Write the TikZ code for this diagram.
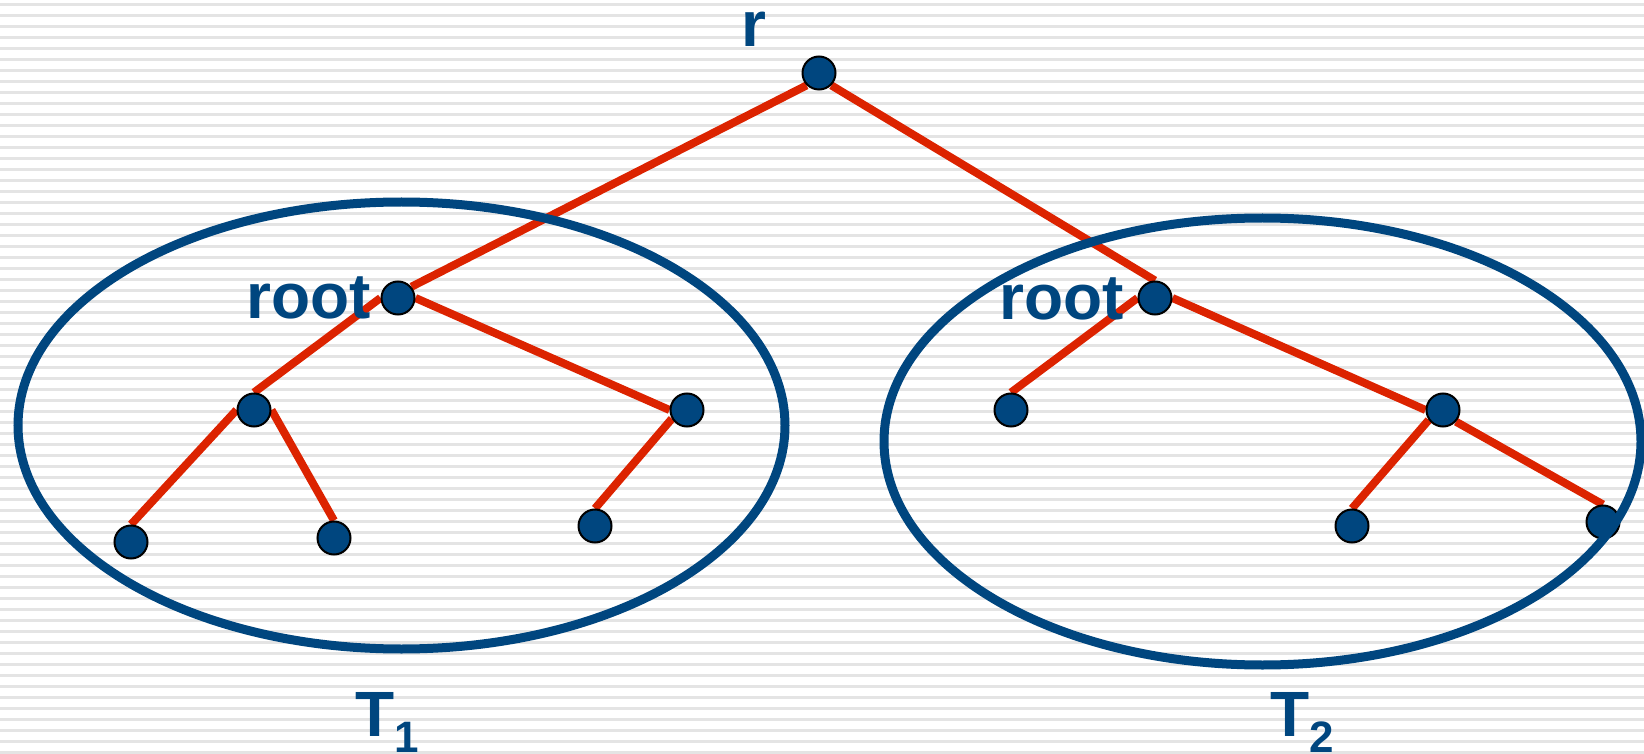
\documentclass[tikz,border=0pt]{standalone}
\usepackage{fontspec}
\setmainfont{Liberation Sans}
\definecolor{tblue}{HTML}{00467F}
\definecolor{tred}{HTML}{DC2300}
\definecolor{stripe}{HTML}{E4E4E4}
\pgfdeclarelayer{bg}
\pgfdeclarelayer{edgelayer}
\pgfdeclarelayer{fg}
\pgfsetlayers{bg,edgelayer,main,fg}
\tikzset{
  vtx/.style={circle, draw=black, line width=1pt, fill=tblue, minimum size=16.5pt, inner sep=0pt},
  edge/.style={draw=tred, line width=4pt},
  outline/.style={draw=tblue, line width=4.5pt},
  lbl/.style={text=tblue, font=\fontsize{32}{32}\selectfont\bfseries, inner sep=0pt, anchor=base west}
}
\begin{document}
\begin{tikzpicture}[x=0.5pt, y=-0.5pt]
\useasboundingbox (0,0) rectangle (1644,754);
\begin{pgfonlayer}{bg}
\fill[white] (0,0) rectangle (1644,754);
\foreach \k in {0,...,68} {
  \fill[stripe] (0,{3+11*\k}) rectangle (1644,{5.9+11*\k});
}
\end{pgfonlayer}
% vertices
\node[vtx] (r) at (819,73) {};
\node[vtx] (root1) at (398,298) {};
\node[vtx] (a) at (254,410) {};
\node[vtx] (b) at (687,410) {};
\node[vtx] (l1) at (131,542) {};
\node[vtx] (l2) at (334,538) {};
\node[vtx] (l3) at (595,526) {};
\node[vtx] (root2) at (1155,298) {};
\node[vtx] (c) at (1011,410) {};
\node[vtx] (d) at (1443,410) {};
\node[vtx] (l4) at (1352,526) {};
\node[vtx] (l5) at (1603,522) {};
% edges
\begin{pgfonlayer}{edgelayer}
\draw[edge] (r.225) -- (root1.40);
\draw[edge] (r.-45) -- (root2.north);
\draw[edge] (root1.west) -- (a.north);
\draw[edge] (root1.east) -- (b.west);
\draw[edge] (a.west) -- (l1.north);
\draw[edge] (a.east) -- (l2.north);
\draw[edge] (b.210) -- (l3.north);
\draw[edge] (root2.west) -- (c.north);
\draw[edge] (root2.east) -- (d.west);
\draw[edge] (d.215) -- (l4.north);
\draw[edge] (d.-42) -- (l5.north);
\end{pgfonlayer}
\begin{pgfonlayer}{fg}
% subtree outlines
\draw[outline] (401.5,425.5) ellipse [x radius=191.75pt, y radius=111.75pt];
\draw[outline] (1262.5,441.5) ellipse [x radius=189.25pt, y radius=111.75pt];
% labels
\node[lbl] (lr) at (741,47) {r};
\node[lbl] (lroot1) at (246,319) {root};
\node[lbl] (lroot2) at (999,320) {root};
\node[lbl] (t1) at (355,736) {T\raisebox{-8pt}{\fontsize{22}{22}\selectfont 1}};
\node[lbl] (t2) at (1270,736) {T\raisebox{-8pt}{\fontsize{22}{22}\selectfont 2}};
\end{pgfonlayer}
\end{tikzpicture}
\end{document}
